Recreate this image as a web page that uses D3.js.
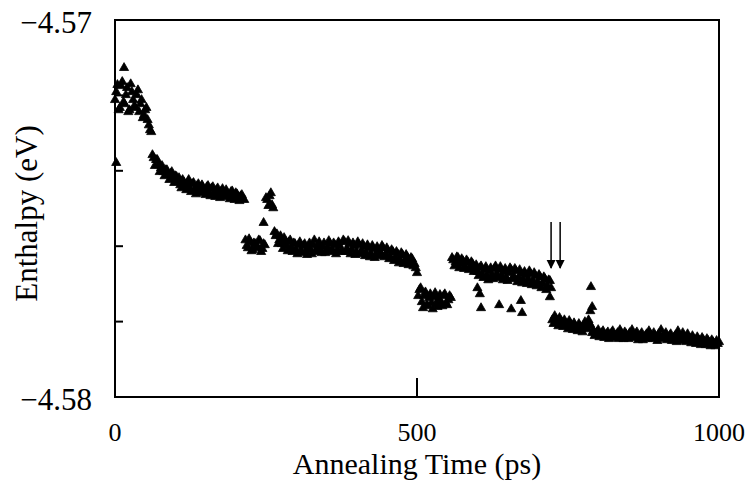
<!DOCTYPE html>
<html>
<head>
<meta charset="utf-8">
<script src="https://cdn.jsdelivr.net/npm/d3@7"></script>
<style>
  body { margin: 0; background: #fff; }
  text { font-family: "Liberation Serif", "Times New Roman", serif; fill: #000; }
</style>
</head>
<body>
<svg></svg>
<script>
const width = 746;
const height = 486;
const margin = { top: 20, right: 27, bottom: 89, left: 115 };

// first run, sampled every 4 ps from 0 ps
const timeStep = 4;
const enthalpy = [
  // 0 - 60 ps
  -4.57212, -4.57172, -4.57233, -4.57164, -4.57223, -4.57180, -4.57239, -4.57191, -4.57228, -4.57199,
  -4.57244, -4.57212, -4.57252, -4.57233, -4.57279, -4.57297,
  // 64 - 212 ps
  -4.57366, -4.57371, -4.57385, -4.57393, -4.57403, -4.57398, -4.57411, -4.57408, -4.57419, -4.57414,
  -4.57430, -4.57438, -4.57424, -4.57440, -4.57432, -4.57446, -4.57435, -4.57451, -4.57440, -4.57448,
  -4.57438, -4.57454, -4.57443, -4.57456, -4.57446, -4.57459, -4.57451, -4.57464, -4.57454, -4.57462,
  -4.57451, -4.57467, -4.57456, -4.57469, -4.57459, -4.57472, -4.57467, -4.57475,
  // 216 - 264 ps
  -4.57584, -4.57605, -4.57589, -4.57610, -4.57594, -4.57602, -4.57586, -4.57607, -4.57597,
  -4.57477, -4.57467, -4.57491, -4.57562,
  // 268 - 500 ps
  -4.57568, -4.57584, -4.57594, -4.57578, -4.57599, -4.57589, -4.57605, -4.57592, -4.57610, -4.57597,
  -4.57613, -4.57599, -4.57615, -4.57602, -4.57610, -4.57597, -4.57615, -4.57599, -4.57613, -4.57602,
  -4.57618, -4.57605, -4.57594, -4.57610, -4.57597, -4.57613, -4.57599, -4.57615, -4.57589, -4.57607,
  -4.57594, -4.57610, -4.57599, -4.57615, -4.57597, -4.57613, -4.57602, -4.57618, -4.57605, -4.57621,
  -4.57607, -4.57623, -4.57610, -4.57618, -4.57605, -4.57623, -4.57613, -4.57629, -4.57615, -4.57631,
  -4.57621, -4.57636, -4.57623, -4.57639, -4.57629, -4.57642, -4.57634, -4.57647, -4.57671,
  // 504 - 556 ps
  -4.57716, -4.57748, -4.57732, -4.57756, -4.57737, -4.57751, -4.57735, -4.57753, -4.57740, -4.57748,
  -4.57732, -4.57751, -4.57743, -4.57737,
  // 560 - 720 ps
  -4.57637, -4.57642, -4.57631, -4.57647, -4.57639, -4.57653, -4.57642, -4.57658, -4.57647, -4.57663,
  -4.57668, -4.57658, -4.57674, -4.57663, -4.57679, -4.57666, -4.57676, -4.57660, -4.57674, -4.57663,
  -4.57679, -4.57668, -4.57684, -4.57671, -4.57663, -4.57679, -4.57666, -4.57684, -4.57674, -4.57690,
  -4.57676, -4.57687, -4.57674, -4.57692, -4.57679, -4.57695, -4.57682, -4.57700, -4.57687, -4.57706,
  -4.57692,
  // 724 - 1000 ps
  -4.57796, -4.57785, -4.57801, -4.57790, -4.57804, -4.57796, -4.57809, -4.57798, -4.57812, -4.57804,
  -4.57817, -4.57806, -4.57820, -4.57809, -4.57814, -4.57796, -4.57812, -4.57825, -4.57833, -4.57822,
  -4.57836, -4.57825, -4.57838, -4.57828, -4.57836, -4.57825, -4.57838, -4.57830, -4.57822, -4.57836,
  -4.57828, -4.57841, -4.57830, -4.57822, -4.57838, -4.57828, -4.57841, -4.57830, -4.57843, -4.57833,
  -4.57825, -4.57838, -4.57830, -4.57843, -4.57833, -4.57822, -4.57838, -4.57830, -4.57843, -4.57833,
  -4.57846, -4.57836, -4.57825, -4.57841, -4.57830, -4.57843, -4.57833, -4.57846, -4.57838, -4.57849,
  -4.57841, -4.57851, -4.57843, -4.57854, -4.57846, -4.57857, -4.57849, -4.57859, -4.57851, -4.57854
];

// in-between samples, every 4 ps from 2 ps
const timeOffset = 2;
const enthalpyMid = [
  // 2 - 58 ps
  -4.57191, -4.57239, -4.57175, -4.57218, -4.57199, -4.57244, -4.57170, -4.57212, -4.57233, -4.57186,
  -4.57223, -4.57260, -4.57239, -4.57265, -4.57292,
  // 62 - 214 ps
  -4.57358, -4.57387, -4.57371, -4.57403, -4.57387, -4.57414, -4.57398, -4.57424, -4.57403, -4.57432,
  -4.57416, -4.57419, -4.57446, -4.57430, -4.57451, -4.57424, -4.57456, -4.57432, -4.57462, -4.57435,
  -4.57459, -4.57446, -4.57464, -4.57440, -4.57467, -4.57443, -4.57469, -4.57446, -4.57472, -4.57448,
  -4.57469, -4.57459, -4.57475, -4.57454, -4.57477, -4.57462, -4.57480, -4.57464, -4.57477,
  // 218 - 266 ps
  -4.57599, -4.57581, -4.57613, -4.57592, -4.57605, -4.57584, -4.57615, -4.57594,
  -4.57472, -4.57493, -4.57459, -4.57499, -4.57573,
  // 270 - 498 ps
  -4.57594, -4.57573, -4.57607, -4.57586, -4.57613, -4.57584, -4.57615, -4.57594, -4.57621, -4.57589,
  -4.57618, -4.57594, -4.57623, -4.57592, -4.57621, -4.57584, -4.57610, -4.57589, -4.57618, -4.57592,
  -4.57613, -4.57586, -4.57615, -4.57592, -4.57621, -4.57589, -4.57613, -4.57584, -4.57615, -4.57586,
  -4.57621, -4.57592, -4.57623, -4.57589, -4.57621, -4.57594, -4.57626, -4.57597, -4.57629, -4.57599,
  -4.57631, -4.57602, -4.57626, -4.57599, -4.57629, -4.57605, -4.57634, -4.57610, -4.57639, -4.57615,
  -4.57645, -4.57618, -4.57647, -4.57623, -4.57650, -4.57631, -4.57653, -4.57658,
  // 502 - 558 ps
  -4.57732, -4.57711, -4.57764, -4.57722, -4.57759, -4.57727, -4.57767, -4.57724, -4.57761, -4.57729,
  -4.57759, -4.57727, -4.57756, -4.57732, -4.57631,
  // 562 - 722 ps
  -4.57653, -4.57629, -4.57658, -4.57634, -4.57660, -4.57637, -4.57663, -4.57642, -4.57668, -4.57650,
  -4.57679, -4.57653, -4.57684, -4.57655, -4.57690, -4.57658, -4.57687, -4.57653, -4.57684, -4.57655,
  -4.57690, -4.57660, -4.57692, -4.57658, -4.57687, -4.57660, -4.57695, -4.57663, -4.57698, -4.57668,
  -4.57700, -4.57666, -4.57703, -4.57671, -4.57706, -4.57676, -4.57711, -4.57682, -4.57716, -4.57690,
  -4.57711,
  // 726 - 998 ps
  -4.57806, -4.57793, -4.57812, -4.57798, -4.57814, -4.57804, -4.57820, -4.57806, -4.57822, -4.57812,
  -4.57825, -4.57814, -4.57828, -4.57801, -4.57820, -4.57806, -4.57830, -4.57838, -4.57828, -4.57841,
  -4.57830, -4.57843, -4.57833, -4.57846, -4.57830, -4.57843, -4.57836, -4.57846, -4.57830, -4.57846,
  -4.57833, -4.57846, -4.57836, -4.57843, -4.57833, -4.57849, -4.57836, -4.57849, -4.57838, -4.57846,
  -4.57833, -4.57846, -4.57838, -4.57851, -4.57838, -4.57846, -4.57836, -4.57849, -4.57838, -4.57851,
  -4.57841, -4.57854, -4.57838, -4.57851, -4.57841, -4.57854, -4.57843, -4.57857, -4.57846, -4.57859,
  -4.57849, -4.57862, -4.57849, -4.57862, -4.57851, -4.57865, -4.57854, -4.57865, -4.57859
];

// scattered points away from the main band
const outlierTimes = [2, 15, 246, 600, 604, 606, 636, 656, 672, 674, 720, 787, 788, 790];
const outlierValues = [-4.57379, -4.57127, -4.57538, -4.57711, -4.57727, -4.57764, -4.57756, -4.57767,
  -4.57745, -4.57777, -4.57735, -4.57772, -4.57708, -4.57761];

// arrows marking the transition
const arrowTimes = [722, 737];
const arrowTop = -4.57536;
const arrowBottom = -4.57658;

const xTickValues = [0, 500, 1000];
const xInnerTicks = [500];
const yTickLabels = [-4.57, -4.58];
const yInnerTicks = [-4.572, -4.574, -4.576, -4.578];

const svg = d3.select("svg").attr("width", width).attr("height", height);

const x = d3.scaleLinear().domain([0, 1000]).range([margin.left, width - margin.right]);
const y = d3.scaleLinear().domain([-4.58, -4.57]).range([height - margin.bottom, margin.top]);

const points = enthalpy.map((v, i) => ({ t: i * timeStep, v: v }))
  .concat(enthalpyMid.map((v, i) => ({ t: timeOffset + i * timeStep, v: v })))
  .concat(outlierTimes.map((t, i) => ({ t: t, v: outlierValues[i] })));

// markers
const tri = d3.symbol().type(d3.symbolTriangle).size(36);
svg.append("g")
  .selectAll("path")
  .data(points)
  .enter()
  .append("path")
  .attr("d", tri)
  .attr("transform", d => `translate(${x(d.t)},${y(d.v)})`)
  .attr("fill", "#000")
  .attr("stroke", "#000")
  .attr("stroke-width", 0.8)
  .attr("stroke-linejoin", "round");

// frame
svg.append("rect")
  .attr("x", x(0))
  .attr("y", y(-4.57))
  .attr("width", x(1000) - x(0))
  .attr("height", y(-4.58) - y(-4.57))
  .attr("fill", "none")
  .attr("stroke", "#000")
  .attr("stroke-width", 2);

// inward ticks
svg.append("g")
  .selectAll("line")
  .data(yInnerTicks)
  .enter()
  .append("line")
  .attr("x1", x(0))
  .attr("x2", x(0) + 8)
  .attr("y1", d => y(d))
  .attr("y2", d => y(d))
  .attr("stroke", "#000")
  .attr("stroke-width", 2);

svg.append("g")
  .selectAll("line")
  .data(xInnerTicks)
  .enter()
  .append("line")
  .attr("x1", d => x(d))
  .attr("x2", d => x(d))
  .attr("y1", y(-4.58))
  .attr("y2", y(-4.58) - 19)
  .attr("stroke", "#000")
  .attr("stroke-width", 2);

// tick labels
svg.append("g")
  .selectAll("text")
  .data(yTickLabels)
  .enter()
  .append("text")
  .attr("x", x(0) - 23)
  .attr("y", d => y(d) + 13)
  .attr("text-anchor", "end")
  .attr("font-family", "Liberation Serif")
  .attr("font-size", 31)
  .text(d => "\u2212" + Math.abs(d).toFixed(2));

svg.append("g")
  .selectAll("text")
  .data(xTickValues)
  .enter()
  .append("text")
  .attr("x", d => x(d))
  .attr("y", y(-4.58) + 44)
  .attr("text-anchor", "middle")
  .attr("font-family", "Liberation Serif")
  .attr("font-size", 26)
  .text(d => d);

// axis titles
svg.append("text")
  .attr("x", x(500))
  .attr("y", height - 12)
  .attr("text-anchor", "middle")
  .attr("font-family", "Liberation Serif")
  .attr("font-size", 30)
  .text("Annealing Time (ps)");

svg.append("text")
  .attr("transform", `translate(37,${(margin.top + height - margin.bottom) / 2 + 5}) rotate(-90)`)
  .attr("text-anchor", "middle")
  .attr("font-family", "Liberation Serif")
  .attr("font-size", 31)
  .text("Enthalpy (eV)");

// arrows
svg.append("defs").append("marker")
  .attr("id", "head")
  .attr("viewBox", "0 0 10 10")
  .attr("refX", 9)
  .attr("refY", 5)
  .attr("markerWidth", 6)
  .attr("markerHeight", 8)
  .attr("orient", "auto")
  .append("path")
  .attr("d", "M0,0 L10,5 L0,10 Z")
  .attr("fill", "#000");

svg.append("g")
  .selectAll("line")
  .data(arrowTimes)
  .enter()
  .append("line")
  .attr("x1", d => x(d))
  .attr("x2", d => x(d))
  .attr("y1", y(arrowTop))
  .attr("y2", y(arrowBottom))
  .attr("stroke", "#000")
  .attr("stroke-width", 1.5)
  .attr("marker-end", "url(#head)");
</script>
</body>
</html>
